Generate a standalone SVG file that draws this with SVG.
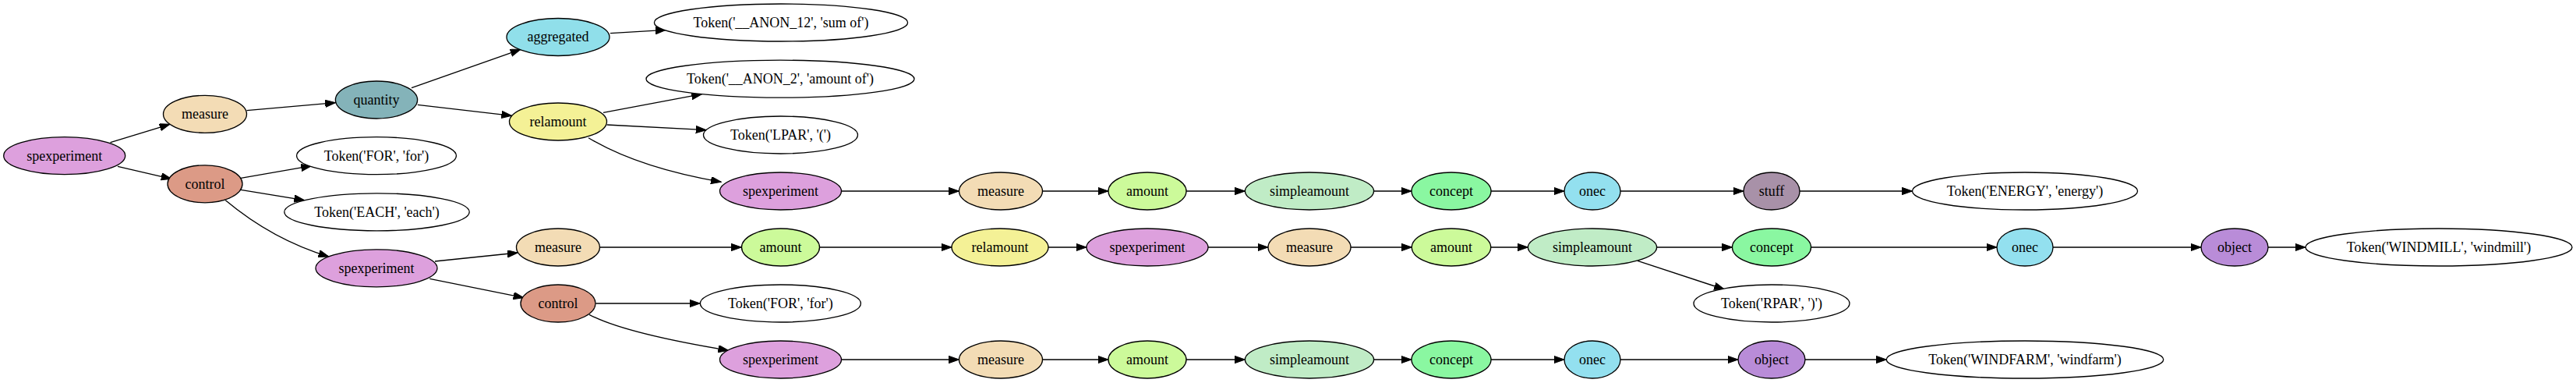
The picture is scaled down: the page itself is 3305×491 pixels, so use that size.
<svg xmlns="http://www.w3.org/2000/svg" width="3305" height="491" viewBox="0 0 3305 491">
<style>
ellipse{stroke:#000;stroke-width:1.33}
text{font-family:"Liberation Serif","Times New Roman",serif;font-size:18px;text-anchor:middle;fill:#000}
.e{stroke:#000;stroke-width:1.33;fill:none;marker-end:url(#ah)}
.spx{fill:#dda0dd}.mea{fill:#f3dcb5}.ctl{fill:#dc9a86}.qty{fill:#84b3b9}.tok{fill:#fff}
.agg{fill:#90dfea}.rel{fill:#f4f196}.amt{fill:#ccfa9a}.sim{fill:#c0ecc6}.con{fill:#8af7a1}
.one{fill:#93e0ef}.stf{fill:#a891a8}.obj{fill:#b98cd8}
</style>
<defs>
<marker id="ah" markerUnits="userSpaceOnUse" markerWidth="14" markerHeight="10" refX="13.3" refY="4.67" orient="auto">
<path d="M0,0 L13.3,4.67 L0,9.33 z" fill="#000" stroke="#000" stroke-width="1"/>
</marker>
</defs>
<rect width="3305" height="491" fill="#fff"/>
<g id="edges">
<line class="e" x1="141.6" y1="182.7" x2="218" y2="159.3"/>
<line class="e" x1="151" y1="213.3" x2="220" y2="229.3"/>
<line class="e" x1="316.5" y1="141.7" x2="430.5" y2="131.7"/>
<line class="e" x1="528" y1="112.7" x2="668" y2="63.3"/>
<line class="e" x1="535.8" y1="134.3" x2="656.6" y2="148.3"/>
<line class="e" x1="783" y1="42.7" x2="854.5" y2="38.3"/>
<line class="e" x1="774" y1="144.3" x2="900.4" y2="120.7"/>
<line class="e" x1="778.7" y1="160" x2="906" y2="166.7"/>
<path class="e" d="M755,176.7 Q819,215 925.3,233.3"/>
<line class="e" x1="309" y1="228.3" x2="399.5" y2="212.7"/>
<line class="e" x1="309" y1="243.3" x2="390.6" y2="256.7"/>
<path class="e" d="M289.3,256.7 Q349.8,307.2 421.9,329"/>
<line class="e" x1="558" y1="335" x2="664.3" y2="324"/>
<line class="e" x1="551.3" y1="357.3" x2="671.9" y2="381.7"/>
<path class="e" d="M756,403.3 Q800.6,427.1 934.8,449.3"/>
<line class="e" x1="769.6" y1="317" x2="951.3" y2="317"/>
<line class="e" x1="1051.8" y1="317" x2="1221" y2="317"/>
<line class="e" x1="764.3" y1="389" x2="898.2" y2="389"/>
<line class="e" x1="1079.5" y1="245" x2="1230.5" y2="245"/>
<line class="e" x1="1079.5" y1="461" x2="1230.5" y2="461"/>
<line class="e" x1="1337.5" y1="245" x2="1422" y2="245"/>
<line class="e" x1="1522" y1="245" x2="1597.4" y2="245"/>
<line class="e" x1="1762.6" y1="245" x2="1811" y2="245"/>
<line class="e" x1="1913" y1="245" x2="2007" y2="245"/>
<line class="e" x1="2079" y1="245" x2="2237" y2="245"/>
<line class="e" x1="2309" y1="245" x2="2453.5" y2="245"/>
<line class="e" x1="1345" y1="317" x2="1394" y2="317"/>
<line class="e" x1="1550" y1="317" x2="1627" y2="317"/>
<line class="e" x1="1733" y1="317" x2="1811.3" y2="317"/>
<line class="e" x1="1912.7" y1="317" x2="1960.4" y2="317"/>
<line class="e" x1="2125.6" y1="317" x2="2222.5" y2="317"/>
<line class="e" x1="2323.5" y1="317" x2="2562" y2="317"/>
<line class="e" x1="2634" y1="317" x2="2824" y2="317"/>
<line class="e" x1="2910" y1="317" x2="2958" y2="317"/>
<path class="e" d="M2101,334.3 L2212.5,371"/>
<line class="e" x1="1337.5" y1="461" x2="1422" y2="461"/>
<line class="e" x1="1522" y1="461" x2="1597.4" y2="461"/>
<line class="e" x1="1762.6" y1="461" x2="1811" y2="461"/>
<line class="e" x1="1913" y1="461" x2="2007" y2="461"/>
<line class="e" x1="2079" y1="461" x2="2230" y2="461"/>
<line class="e" x1="2316" y1="461" x2="2420.3" y2="461"/>
</g>
<g id="n1"><ellipse class="spx" cx="82.7" cy="199.7" rx="78" ry="24"/><text x="82.7" y="205.5">spexperiment</text></g>
<g id="n2"><ellipse class="mea" cx="263" cy="146.3" rx="53.5" ry="24"/><text x="263" y="152">measure</text></g>
<g id="n3"><ellipse class="ctl" cx="263" cy="235.8" rx="48" ry="24"/><text x="263" y="241.5">control</text></g>
<g id="n4"><ellipse class="qty" cx="483" cy="128" rx="52.6" ry="24"/><text x="483" y="133.7">quantity</text></g>
<g id="n5"><ellipse class="tok" cx="483" cy="199.7" rx="102.4" ry="24"/><text x="483" y="205.5">Token('FOR', 'for')</text></g>
<g id="n6"><ellipse class="tok" cx="483.5" cy="271.8" rx="118.7" ry="24"/><text x="483.5" y="277.5">Token('EACH', 'each')</text></g>
<g id="n7"><ellipse class="spx" cx="483" cy="343.8" rx="78" ry="24"/><text x="483" y="349.5">spexperiment</text></g>
<g id="n8"><ellipse class="agg" cx="716" cy="47.5" rx="66" ry="24"/><text x="716" y="53.2">aggregated</text></g>
<g id="n9"><ellipse class="rel" cx="716" cy="156" rx="62.5" ry="24"/><text x="716" y="161.7">relamount</text></g>
<g id="n10"><ellipse class="mea" cx="716" cy="317" rx="53.5" ry="24"/><text x="716" y="322.7">measure</text></g>
<g id="n11"><ellipse class="ctl" cx="716" cy="389" rx="48" ry="24"/><text x="716" y="394.7">control</text></g>
<g id="n12"><ellipse class="tok" cx="1002" cy="29" rx="162.6" ry="24"/><text x="1002" y="34.7">Token('__ANON_12', 'sum of')</text></g>
<g id="n13"><ellipse class="tok" cx="1001" cy="101.2" rx="172" ry="24"/><text x="1001" y="106.9">Token('__ANON_2', 'amount of')</text></g>
<g id="n14"><ellipse class="tok" cx="1001.5" cy="173" rx="99" ry="24"/><text x="1001.5" y="178.7">Token('LPAR', '(')</text></g>
<g id="n15"><ellipse class="spx" cx="1001.5" cy="245" rx="78" ry="24"/><text x="1001.5" y="250.7">spexperiment</text></g>
<g id="n16"><ellipse class="amt" cx="1001.5" cy="317" rx="50" ry="24"/><text x="1001.5" y="322.7">amount</text></g>
<g id="n17"><ellipse class="tok" cx="1001.4" cy="389" rx="103" ry="24"/><text x="1001.4" y="394.7">Token('FOR', 'for')</text></g>
<g id="n18"><ellipse class="spx" cx="1001.5" cy="461" rx="78" ry="24"/><text x="1001.5" y="466.7">spexperiment</text></g>
<g id="n19"><ellipse class="mea" cx="1284" cy="245" rx="53.5" ry="24"/><text x="1284" y="250.7">measure</text></g>
<g id="n20"><ellipse class="rel" cx="1283" cy="317" rx="62" ry="24"/><text x="1283" y="322.7">relamount</text></g>
<g id="n21"><ellipse class="mea" cx="1284" cy="461" rx="53.5" ry="24"/><text x="1284" y="466.7">measure</text></g>
<g id="n22"><ellipse class="amt" cx="1472" cy="245" rx="50" ry="24"/><text x="1472" y="250.7">amount</text></g>
<g id="n23"><ellipse class="spx" cx="1472" cy="317" rx="78" ry="24"/><text x="1472" y="322.7">spexperiment</text></g>
<g id="n24"><ellipse class="amt" cx="1472" cy="461" rx="50" ry="24"/><text x="1472" y="466.7">amount</text></g>
<g id="n25"><ellipse class="sim" cx="1680" cy="245" rx="82.6" ry="24"/><text x="1680" y="250.7">simpleamount</text></g>
<g id="n26"><ellipse class="mea" cx="1680" cy="317" rx="53" ry="24"/><text x="1680" y="322.7">measure</text></g>
<g id="n27"><ellipse class="sim" cx="1680" cy="461" rx="82.6" ry="24"/><text x="1680" y="466.7">simpleamount</text></g>
<g id="n28"><ellipse class="con" cx="1862" cy="245" rx="51" ry="24"/><text x="1862" y="250.7">concept</text></g>
<g id="n29"><ellipse class="amt" cx="1862" cy="317" rx="50.7" ry="24"/><text x="1862" y="322.7">amount</text></g>
<g id="n30"><ellipse class="con" cx="1862" cy="461" rx="51" ry="24"/><text x="1862" y="466.7">concept</text></g>
<g id="n31"><ellipse class="one" cx="2043" cy="245" rx="36" ry="24"/><text x="2043" y="250.7">onec</text></g>
<g id="n32"><ellipse class="sim" cx="2043" cy="317" rx="82.6" ry="24"/><text x="2043" y="322.7">simpleamount</text></g>
<g id="n33"><ellipse class="one" cx="2043" cy="461" rx="36" ry="24"/><text x="2043" y="466.7">onec</text></g>
<g id="n34"><ellipse class="stf" cx="2273" cy="245" rx="36" ry="24"/><text x="2273" y="250.7">stuff</text></g>
<g id="n35"><ellipse class="con" cx="2273" cy="317" rx="50.5" ry="24"/><text x="2273" y="322.7">concept</text></g>
<g id="n36"><ellipse class="tok" cx="2273" cy="389" rx="100" ry="24"/><text x="2273" y="394.7">Token('RPAR', ')')</text></g>
<g id="n37"><ellipse class="obj" cx="2273" cy="461" rx="43" ry="24"/><text x="2273" y="466.7">object</text></g>
<g id="n38"><ellipse class="tok" cx="2598" cy="245" rx="144.5" ry="24"/><text x="2598" y="250.7">Token('ENERGY', 'energy')</text></g>
<g id="n39"><ellipse class="one" cx="2598" cy="317" rx="36" ry="24"/><text x="2598" y="322.7">onec</text></g>
<g id="n40"><ellipse class="tok" cx="2598" cy="461" rx="177.7" ry="24"/><text x="2598" y="466.7">Token('WINDFARM', 'windfarm')</text></g>
<g id="n41"><ellipse class="obj" cx="2867" cy="317" rx="43" ry="24"/><text x="2867" y="322.7">object</text></g>
<g id="n42"><ellipse class="tok" cx="3129" cy="317" rx="171" ry="24"/><text x="3129" y="322.7">Token('WINDMILL', 'windmill')</text></g>
</svg>
